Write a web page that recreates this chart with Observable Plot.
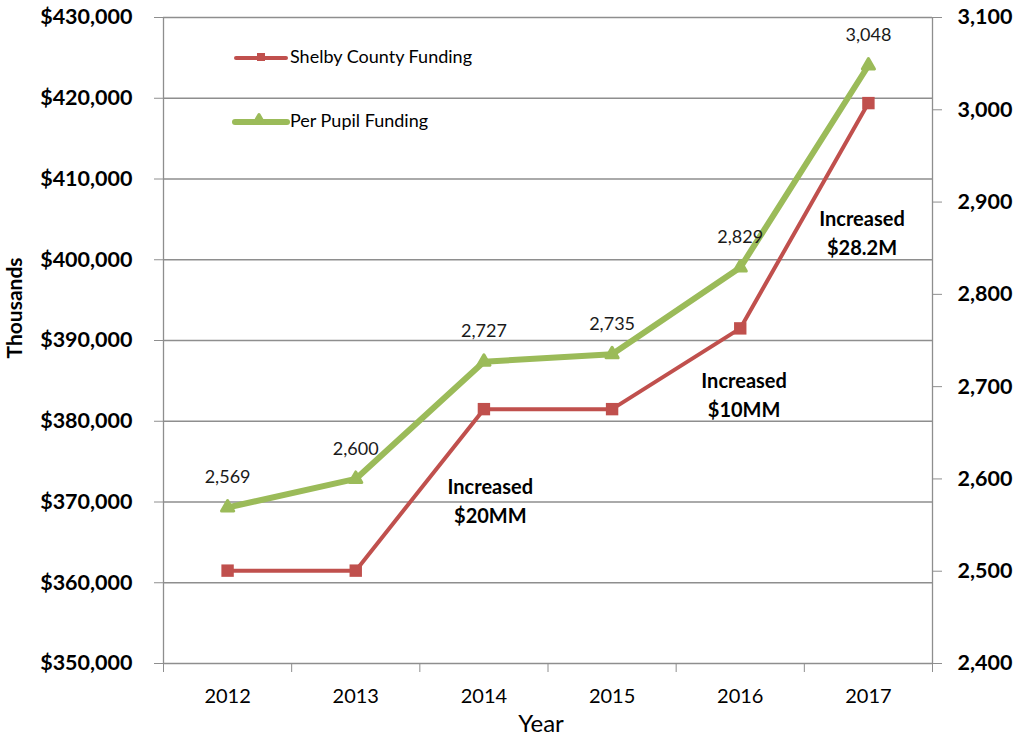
<!DOCTYPE html>
<html><head><meta charset="utf-8">
<script src="https://cdn.jsdelivr.net/npm/d3@7"></script>
<script src="https://cdn.jsdelivr.net/npm/@observablehq/plot@0.6"></script>
<style>body{margin:0;background:#fff}</style>
</head><body><div id="chart"></div>
<script>
const years = [2012, 2013, 2014, 2015, 2016, 2017];
const shelbyFunding = [361500, 361500, 381500, 381500, 391500, 419400];
const perPupil = [2569, 2600, 2727, 2735, 2829, 3048];
const perPupilLabels = ["2,569", "2,600", "2,727", "2,735", "2,829", "3,048"];
const leftTicks = [350000, 360000, 370000, 380000, 390000, 400000, 410000, 420000, 430000];
const rightTicks = [2400, 2500, 2600, 2700, 2800, 2900, 3000, 3100];
const seriesNames = ["Shelby County Funding", "Per Pupil Funding"];
const annotationYears = [2014.05, 2016.03, 2016.95];
const annotationValues = [370300, 383500, 403500];
const annotationTexts = ["Increased\n$20MM", "Increased\n$10MM", "Increased\n$28.2M"];

const RED = "#c0504d", GREEN = "#9bbb59", GRID = "#8e8e8e";
const FONT = "Lato, 'Open Sans', sans-serif";

// right axis (per pupil) mapped onto the left scale
const L0 = leftTicks[0], L1 = leftTicks[leftTicks.length - 1];
const R0 = rightTicks[0], R1 = rightTicks[rightTicks.length - 1];
const toLeft = v => L0 + (v - R0) * (L1 - L0) / (R1 - R0);
const fromLeft = v => R0 + (v - L0) * (R1 - R0) / (L1 - L0);

const shelbyData = years.map((year, i) => ({year, value: shelbyFunding[i]}));
const pupilData = years.map((year, i) => ({year, value: toLeft(perPupil[i]), label: perPupilLabels[i]}));
const annData = annotationTexts.map((text, i) => ({x: annotationYears[i], y: annotationValues[i], text}));
const boundaries = [years[0] - 0.5, ...years.map(y => y + 0.5)];

const chart = Plot.plot({
  width: 1017, height: 738,
  marginLeft: 163, marginRight: 85, marginTop: 17, marginBottom: 75,
  style: {fontFamily: FONT, background: "white", color: "black"},
  x: {type: "linear", domain: [boundaries[0], boundaries[boundaries.length - 1]]},
  y: {domain: [L0, L1]},
  marks: [
    Plot.ruleY(leftTicks, {stroke: GRID, strokeWidth: 1.3}),
    Plot.ruleX([boundaries[0], boundaries[boundaries.length - 1]], {stroke: GRID, strokeWidth: 1.3}),
    Plot.axisY({ticks: leftTicks, tickFormat: d => "$" + d3.format(",")(d), tickSize: 9, tickPadding: 22,
      fontSize: 21.5, fontWeight: "bold", label: null, stroke: GRID, fill: "black"}),
    Plot.axisY({anchor: "right", ticks: rightTicks.map(toLeft), tickFormat: d => d3.format(",")(Math.round(fromLeft(d))),
      tickSize: 9, tickPadding: 16, fontSize: 21.5, fontWeight: "bold", label: null, stroke: GRID, fill: "black"}),
    Plot.axisX({ticks: boundaries, tickFormat: () => "", tickSize: 9, label: null, stroke: GRID}),
    Plot.axisX({ticks: years, tickFormat: d => String(d), tickSize: 0, tickPadding: 25, fontSize: 20, label: null, fill: "black"}),
    Plot.line(shelbyData, {x: "year", y: "value", stroke: RED, strokeWidth: 4}),
    Plot.dot(shelbyData, {x: "year", y: "value", symbol: "square", r: 7, fill: RED}),
    Plot.line(pupilData, {x: "year", y: "value", stroke: GREEN, strokeWidth: 6, strokeLinejoin: "round"}),
    Plot.dot(pupilData, {x: "year", y: "value", symbol: "triangle", r: 4.5, fill: GREEN, stroke: GREEN, strokeWidth: 3, strokeLinejoin: "round"}),
    Plot.text(pupilData, {x: "year", y: "value", text: "label", dy: -30, fontSize: 18, fill: "#1a1a1a"}),
    Plot.text(annData, {x: "x", y: "y", text: "text", fontSize: 20, fontWeight: "bold", lineHeight: 1.45, fill: "black"})
  ]
});

const svg = d3.select(chart);
// axis titles
svg.append("text").attr("transform", "translate(17,308) rotate(-90)")
  .attr("text-anchor", "middle").attr("dominant-baseline", "middle")
  .style("font", `bold 21px ${FONT}`).text("Thousands");
svg.append("text").attr("x", 541).attr("y", 726)
  .attr("text-anchor", "middle").attr("dominant-baseline", "middle")
  .style("font", `24px ${FONT}`).text("Year");
// legend
const lg = svg.append("g");
lg.append("line").attr("x1", 236).attr("x2", 286).attr("y1", 58).attr("y2", 58).attr("stroke", RED).attr("stroke-width", 4).attr("stroke-linecap", "round");
lg.append("rect").attr("x", 257).attr("y", 53).attr("width", 8).attr("height", 8).attr("fill", RED);
lg.append("text").attr("x", 290).attr("y", 58).attr("text-anchor", "start").attr("dominant-baseline", "middle").style("font", `18px ${FONT}`).text(seriesNames[0]);
lg.append("line").attr("x1", 235).attr("x2", 287).attr("y1", 122).attr("y2", 122).attr("stroke", GREEN).attr("stroke-width", 6).attr("stroke-linecap", "round");
lg.append("path").attr("d", d3.symbol(d3.symbolTriangle, 40)()).attr("transform", "translate(259,120)").attr("fill", GREEN).attr("stroke", GREEN).attr("stroke-width", 3).attr("stroke-linejoin", "round");
lg.append("text").attr("x", 290).attr("y", 122).attr("text-anchor", "start").attr("dominant-baseline", "middle").style("font", `18px ${FONT}`).text(seriesNames[1]);

document.getElementById("chart").appendChild(chart);
</script>
</body></html>
